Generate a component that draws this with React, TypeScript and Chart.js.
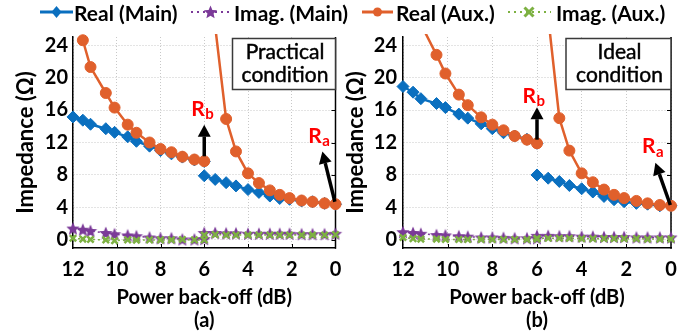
import React, { useEffect, useRef } from 'react';
import { Chart, registerables } from 'chart.js';

Chart.register(...registerables);

// ---------- data ----------
// x positions (power back-off, dB) of the two measurement segments
const X_SEG1 = [12, 11.55, 11.2, 10.5, 10.1, 9.5, 9.1, 8.5, 8.0, 7.5, 7.0, 6.45, 6.0];
const X_SEG2 = [6.0, 5.5, 5.0, 4.55, 4.0, 3.5, 3.0, 2.55, 2.1, 1.55, 1.05, 0.5, 0];

// (a) Practical condition
const A_REAL_MAIN_1 = [15.15, 14.75, 14.25, 13.7, 13.25, 12.7, 12.15, 11.55, 11.0, 10.6, 10.2, 9.85, 9.65];
const A_REAL_MAIN_2 = [7.9, 7.45, 7.05, 6.65, 6.2, 5.85, 5.4, 5.1, 5.0, 4.8, 4.7, 4.5, 4.4];
const A_IMAG_MAIN_1 = [1.4, 1.25, 1.1, 0.85, 0.7, 0.55, 0.45, 0.3, 0.2, 0.2, 0.05, 0.05, 0.1];
const A_IMAG_MAIN_2 = [0.85, 0.85, 0.8, 0.8, 0.75, 0.75, 0.75, 0.75, 0.75, 0.7, 0.7, 0.7, 0.75];
const A_REAL_AUX_1 = [null, 24.6, 21.3, 18.1, 16.3, 14.2, 13.2, 12.0, 11.2, 10.8, 10.25, 9.9, 9.7];
const A_REAL_AUX_2 = [40, 26.3, 14.9, 10.9, 8.2, 7.0, 6.1, 5.55, 5.15, 4.85, 4.7, 4.5, 4.4];
const A_IMAG_AUX_1 = [0.2, 0.1, 0.05, 0.0, -0.1, 0.0, -0.05, 0.0, 0.0, 0.0, 0.05, 0.0, 0.0];
const A_IMAG_AUX_2 = [0.6, 0.65, 0.6, 0.6, 0.6, 0.6, 0.6, 0.6, 0.6, 0.6, 0.6, 0.6, 0.65];

// (b) Ideal condition
const B_REAL_MAIN_1 = [18.9, 18.2, 17.4, 16.8, 16.3, 15.5, 15.0, 14.3, 13.7, 13.2, 12.8, 12.4, 11.9];
const B_REAL_MAIN_2 = [8.0, 7.6, 7.2, 6.7, 6.3, 5.9, 5.35, 4.95, 4.7, 4.5, 4.4, 4.2, 4.2];
const B_IMAG_MAIN_1 = [0.95, 0.85, 0.75, 0.6, 0.55, 0.45, 0.4, 0.3, 0.3, 0.25, 0.2, 0.2, 0.2];
const B_IMAG_MAIN_2 = [0.5, 0.5, 0.45, 0.45, 0.4, 0.4, 0.35, 0.35, 0.35, 0.3, 0.3, 0.3, 0.3];
const B_REAL_AUX_1 = [34, 30, 26.6, 22.8, 20.5, 17.9, 16.6, 15.1, 14.2, 13.5, 12.8, 12.35, 11.9];
const B_REAL_AUX_2 = [40, 27.5, 15.0, 11.0, 8.2, 7.1, 6.2, 5.55, 5.15, 4.8, 4.5, 4.3, 4.2];
const B_IMAG_AUX_1 = [0.3, 0.15, 0.1, 0.1, 0.05, 0.05, 0.05, 0.05, 0.05, 0.05, 0.05, 0.05, 0.1];
const B_IMAG_AUX_2 = [0.2, 0.2, 0.2, 0.2, 0.15, 0.15, 0.15, 0.15, 0.15, 0.15, 0.1, 0.1, 0.1];

const SERIES_NAMES = ['Real (Main)', 'Imag. (Main)', 'Real (Aux.)', 'Imag. (Aux.)'];
const Y_TICKS = [0, 4, 8, 12, 16, 20, 24];
const X_TICKS = [12, 10, 8, 6, 4, 2, 0];
const X_TITLE = 'Power back-off (dB)';
const Y_TITLE = 'Impedance (\u03A9)';

// ---------- styles ----------
const BLUE = '#0A6FBF';
const PURPLE = '#7B3A98';
const ORANGE = '#E0602C';
const GREEN = '#7DB142';
const FONT = 'Lato, "Open Sans", sans-serif';

function starCanvas(color: string, r: number) {
  const c = document.createElement('canvas');
  const s = Math.ceil(r * 2 + 2);
  c.width = s; c.height = s;
  const g = c.getContext('2d')!;
  g.fillStyle = color;
  g.beginPath();
  for (let i = 0; i < 10; i++) {
    const rad = i % 2 === 0 ? r : r * 0.45;
    const a = -Math.PI / 2 + (i * Math.PI) / 5;
    const px = s / 2 + rad * Math.cos(a);
    const py = s / 2 + rad * Math.sin(a) + 0.5;
    if (i === 0) g.moveTo(px, py); else g.lineTo(px, py);
  }
  g.closePath();
  g.fill();
  return c;
}

function seg(y1: (number | null)[], y2: (number | null)[]) {
  return [
    ...X_SEG1.map((x, i) => ({ x, y: y1[i] })),
    { x: 6, y: null },
    ...X_SEG2.map((x, i) => ({ x, y: y2[i] })),
  ];
}

function drawArrow(ctx: CanvasRenderingContext2D, x1: number, y1: number, x2: number, y2: number) {
  const ang = Math.atan2(y2 - y1, x2 - x1);
  const headLen = 12, headW = 6.5;
  const bx = x2 - headLen * Math.cos(ang), by = y2 - headLen * Math.sin(ang);
  ctx.strokeStyle = '#000';
  ctx.fillStyle = '#000';
  ctx.lineWidth = 3.5;
  ctx.beginPath();
  ctx.moveTo(x1, y1);
  ctx.lineTo(bx, by);
  ctx.stroke();
  ctx.beginPath();
  ctx.moveTo(x2, y2);
  ctx.lineTo(bx + headW * Math.sin(ang), by - headW * Math.cos(ang));
  ctx.lineTo(bx - headW * Math.sin(ang), by + headW * Math.cos(ang));
  ctx.closePath();
  ctx.fill();
}

const framePlugin = {
  id: 'frame',
  beforeDatasetsDraw(chart: any) {
    const { ctx, chartArea, scales } = chart;
    const { left, right, top, bottom } = chartArea;
    ctx.save();
    ctx.strokeStyle = '#000';
    ctx.lineWidth = 1.5;
    ctx.beginPath();
    ctx.moveTo(right, top);
    ctx.lineTo(right, bottom + 0.75);
    ctx.stroke();
    ctx.lineWidth = 1;
    ctx.beginPath();
    for (const v of Y_TICKS) {
      const y = Math.round(scales.y.getPixelForValue(v)) + 0.5;
      ctx.moveTo(right - 4, y); ctx.lineTo(right, y);
    }
    for (const v of X_TICKS) {
      const x = Math.round(scales.x.getPixelForValue(v)) + 0.5;
      if (x <= left + 1 || x >= right - 1) continue;
      ctx.moveTo(x, bottom); ctx.lineTo(x, bottom - 4);
    }
    ctx.stroke();
    ctx.restore();
  },
};

const annotPlugin = {
  id: 'annot',
  afterDatasetsDraw(chart: any, _args: any, opts: any) {
    const { ctx, chartArea, scales } = chart;
    const X = (v: number) => scales.x.getPixelForValue(v);
    const Y = (v: number) => scales.y.getPixelForValue(v);
    ctx.save();
    // condition box
    const bw = opts.boxWidth, bh = 51;
    const bx = chartArea.right - bw, by = chartArea.top + 1.5;
    ctx.fillStyle = '#fff';
    ctx.fillRect(bx, by, bw, bh);
    ctx.strokeStyle = '#3a3a3a';
    ctx.lineWidth = 1.5;
    ctx.strokeRect(bx, by, bw, bh);
    ctx.fillStyle = '#000';
    ctx.strokeStyle = '#000';
    ctx.lineWidth = 0.45;
    ctx.font = `21px ${FONT}`;
    ctx.textAlign = 'center';
    ctx.textBaseline = 'middle';
    opts.boxLines.forEach((t: string, i: number) => {
      const ty = by + (i === 0 ? 13.5 : 36.5);
      ctx.fillText(t, bx + bw / 2 + 1, ty);
      ctx.strokeText(t, bx + bw / 2 + 1, ty);
    });
    // arrows
    for (const a of opts.arrows) {
      drawArrow(ctx, X(a[0]), Y(a[1]), X(a[2]), Y(a[3]));
    }
    // R labels
    ctx.textAlign = 'left';
    ctx.textBaseline = 'alphabetic';
    ctx.fillStyle = '#FF0000';
    for (const l of opts.labels) {
      const x = X(l.x), y = Y(l.y);
      ctx.font = `bold 21px ${FONT}`;
      ctx.fillText('R', x, y);
      const w = ctx.measureText('R').width;
      ctx.font = `bold 15px ${FONT}`;
      ctx.fillText(l.sub, x + w + 0.5, y + 3.5);
    }
    ctx.restore();
  },
};

function makeConfig(p: any) {
  const datasets = [
    {
      label: SERIES_NAMES[0], data: seg(p.rm1, p.rm2), borderColor: BLUE, backgroundColor: BLUE,
      borderWidth: 2.5, pointStyle: 'rectRot', pointRadius: 6, pointBorderWidth: 1, order: 3,
    },
    {
      label: SERIES_NAMES[1], data: seg(p.im1, p.im2), borderColor: PURPLE, backgroundColor: PURPLE,
      borderWidth: 1.5, borderDash: [2, 3], pointStyle: starCanvas(PURPLE, 7), pointRadius: 6, order: 4,
    },
    {
      label: SERIES_NAMES[2], data: seg(p.ra1, p.ra2), borderColor: ORANGE, backgroundColor: ORANGE,
      borderWidth: 2.5, pointStyle: 'circle', pointRadius: 5.5, pointBorderWidth: 1, order: 1,
    },
    {
      label: SERIES_NAMES[3], data: seg(p.ia1, p.ia2), borderColor: GREEN, backgroundColor: GREEN,
      borderWidth: 1.5, borderDash: [2, 3], pointStyle: 'crossRot', pointRadius: 4.5, pointBorderWidth: 2.5, order: 2,
    },
  ].map((d) => ({ ...d, clip: { left: 8, right: 8, top: 3, bottom: 8 }, tension: 0, spanGaps: false }));

  return {
    type: 'line' as const,
    data: { datasets },
    plugins: [framePlugin, annotPlugin],
    options: {
      responsive: false,
      animation: false as const,
      events: [],
      layout: { padding: { top: 37, right: p.padRight, left: 0, bottom: 0 } },
      plugins: {
        legend: { display: false },
        tooltip: { enabled: false },
        annot: p.annot,
      },
      scales: {
        x: {
          type: 'linear' as const,
          min: 0, max: 12, reverse: true,
          afterBuildTicks: (s: any) => { s.ticks = X_TICKS.map((v) => ({ value: v })); },
          afterFit: (s: any) => { s.height = 85; s.paddingLeft = 0; s.paddingRight = 0; },
          ticks: { font: { family: FONT, size: 20, weight: 'bold' as const, lineHeight: 1.2 }, color: '#000', padding: 10, maxRotation: 0 },
          grid: { color: '#C8C8C8', lineWidth: 1, drawTicks: false },
          border: { display: true, color: '#000', width: 1.5, dash: [1, 2] },
          title: {
            display: true, text: [X_TITLE, p.panel], color: '#000',
            font: { family: FONT, size: 20, weight: 'bold' as const, lineHeight: 1.15 },
            padding: { top: 0, bottom: 1 },
          },
        },
        y: {
          type: 'linear' as const,
          min: -1, max: 25,
          afterBuildTicks: (s: any) => { s.ticks = Y_TICKS.map((v) => ({ value: v })); },
          afterFit: (s: any) => { s.width = p.yWidth; s.paddingTop = 0; s.paddingBottom = 0; },
          ticks: { font: { family: FONT, size: 20, weight: 'bold' as const }, color: '#000', padding: p.yTickPad },
          grid: { color: '#C8C8C8', lineWidth: 1, drawTicks: false },
          border: { display: true, color: '#000', width: 1.5, dash: [1, 2] },
          title: {
            display: true, text: Y_TITLE, color: '#000',
            font: { family: FONT, size: 22, weight: 'bold' as const, lineHeight: 1.2 },
            padding: { top: p.yTitlePad, bottom: 0 },
          },
        },
      },
    },
  };
}

const PANEL_A = {
  rm1: A_REAL_MAIN_1, rm2: A_REAL_MAIN_2, im1: A_IMAG_MAIN_1, im2: A_IMAG_MAIN_2,
  ra1: A_REAL_AUX_1, ra2: A_REAL_AUX_2, ia1: A_IMAG_AUX_1, ia2: A_IMAG_AUX_2,
  panel: '(a)', padRight: 4, yWidth: 73, yTickPad: 5, yTitlePad: 13,
  annot: {
    boxWidth: 103, boxLines: ['Practical', 'condition'],
    arrows: [[6, 10.3, 6, 14.2], [0.03, 4.7, 0.6, 10.9]],
    labels: [{ x: 6.6, y: 15.3, sub: 'b' }, { x: 1.25, y: 12.0, sub: 'a' }],
  },
};

const PANEL_B = {
  rm1: B_REAL_MAIN_1, rm2: B_REAL_MAIN_2, im1: B_IMAG_MAIN_1, im2: B_IMAG_MAIN_2,
  ra1: B_REAL_AUX_1, ra2: B_REAL_AUX_2, ia1: B_IMAG_AUX_1, ia2: B_IMAG_AUX_2,
  panel: '(b)', padRight: 15, yWidth: 60, yTickPad: 6, yTitlePad: 0,
  annot: {
    boxWidth: 105, boxLines: ['Ideal', 'condition'],
    arrows: [[6, 12.35, 6, 16.35], [0.03, 4.3, 0.7, 9.5]],
    labels: [{ x: 6.65, y: 16.9, sub: 'b' }, { x: 1.3, y: 10.7, sub: 'a' }],
  },
};

function Panel({ cfg, left }: { cfg: any; left: number }) {
  const ref = useRef<HTMLCanvasElement>(null);
  useEffect(() => {
    const chart = new Chart(ref.current!, makeConfig(cfg) as any);
    return () => chart.destroy();
  }, []);
  return (
    <canvas ref={ref} width={343} height={333}
      style={{ position: 'absolute', left, top: 0, width: 343, height: 333 }} />
  );
}

function LegendSymbol({ kind }: { kind: number }) {
  const w = kind === 0 ? 33 : kind === 1 ? 41 : kind === 2 ? 31 : 44;
  const cx = w / 2, cy = 12;
  const star = () => {
    const pts: string[] = [];
    for (let i = 0; i < 10; i++) {
      const r = i % 2 === 0 ? 7 : 3.2;
      const a = -Math.PI / 2 + (i * Math.PI) / 5;
      pts.push(`${cx + r * Math.cos(a)},${cy + 0.5 + r * Math.sin(a)}`);
    }
    return pts.join(' ');
  };
  return (
    <svg width={w} height={24} style={{ display: 'block' }}>
      {kind === 0 && <>
        <line x1={0} y1={cy} x2={w} y2={cy} stroke={BLUE} strokeWidth={3} />
        <polygon points={`${cx},${cy - 6} ${cx + 5},${cy} ${cx},${cy + 6} ${cx - 5},${cy}`} fill={BLUE} />
      </>}
      {kind === 1 && <>
        <line x1={1} y1={cy} x2={w} y2={cy} stroke={PURPLE} strokeWidth={2} strokeDasharray="2 4" />
        <polygon points={star()} fill={PURPLE} />
      </>}
      {kind === 2 && <>
        <line x1={0} y1={cy} x2={w} y2={cy} stroke={ORANGE} strokeWidth={3} />
        <circle cx={cx} cy={cy} r={4.5} fill={ORANGE} />
      </>}
      {kind === 3 && <>
        <line x1={1} y1={cy} x2={w} y2={cy} stroke={GREEN} strokeWidth={2} strokeDasharray="2 4" />
        <line x1={cx - 4.5} y1={cy - 4.5} x2={cx + 4.5} y2={cy + 4.5} stroke={GREEN} strokeWidth={3} />
        <line x1={cx - 4.5} y1={cy + 4.5} x2={cx + 4.5} y2={cy - 4.5} stroke={GREEN} strokeWidth={3} />
      </>}
    </svg>
  );
}

const LEGEND_POS = [
  { sym: 40, text: 74 },
  { sym: 190, text: 234 },
  { sym: 362, text: 396 },
  { sym: 507, text: 556 },
];

export default function App() {
  return (
    <div style={{ position: 'absolute', left: 0, top: 0, width: 686, height: 333, background: '#fff', overflow: 'hidden' }}>
      <Panel cfg={PANEL_A} left={0} />
      <Panel cfg={PANEL_B} left={343} />
      {SERIES_NAMES.map((name, i) => (
        <React.Fragment key={name}>
          <div style={{ position: 'absolute', left: LEGEND_POS[i].sym, top: 0 }}>
            <LegendSymbol kind={i} />
          </div>
          <div style={{
            position: 'absolute', left: LEGEND_POS[i].text, top: 0, height: 24, lineHeight: '24px',
            font: `bold 21px ${FONT}`, color: '#000', whiteSpace: 'nowrap',
          }}>{name}</div>
        </React.Fragment>
      ))}
    </div>
  );
}
